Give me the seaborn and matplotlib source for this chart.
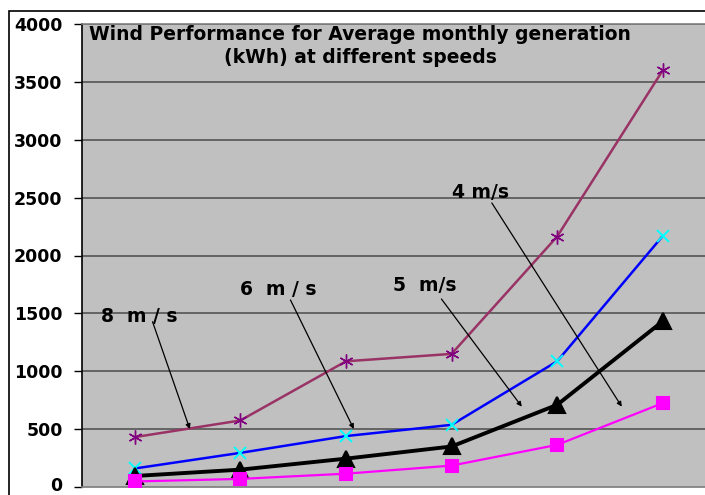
import matplotlib
matplotlib.use("Agg")
import matplotlib.pyplot as plt
import matplotlib.transforms as mtransforms
import seaborn as sns
import pandas as pd
from matplotlib.patches import Rectangle

# monthly generation (kWh), six points per speed
points = [1, 2, 3, 4, 5, 6]
gen_8ms = [431, 575, 1086, 1150, 2164, 3600]
gen_6ms = [160, 295, 440, 537, 1086, 2169]
gen_5ms = [95, 150, 245, 350, 710, 1432]
gen_4ms = [48, 70, 115, 185, 364, 725]
y_ticks = [0, 500, 1000, 1500, 2000, 2500, 3000, 3500, 4000]

title = "Wind Performance for Average monthly generation\n(kWh) at different speeds"

sns.set_theme(style="white")
plt.rcParams['font.family'] = ['DejaVu Sans']
plt.rcParams['text.color'] = 'black'
plt.rcParams['ytick.color'] = 'black'

fig = plt.figure(figsize=(7.05, 4.95), dpi=100)
ax = fig.add_axes([82 / 705, 8 / 495, 1 - 82 / 705, 463 / 495])
ax.set_facecolor("#C0C0C0")

# outer chart frame (cut off at right and bottom like the original)
fig.patches.append(Rectangle((9 / 705, -0.1), 1.2, 1 - 10.7 / 495 + 0.1,
                             transform=fig.transFigure, fill=False,
                             edgecolor="black", linewidth=1.2, zorder=0))

series = [
    (gen_8ms, "#993366", (6, 2, 0), "#800080", "#800080", 1.8, 10, 1.0),
    (gen_6ms, "#0000FF", "x", "#00FFFF", "#00FFFF", 1.8, 9, 1.4),
    (gen_5ms, "#000000", "^", "#000000", "#000000", 2.8, 11, 1.5),
    (gen_4ms, "#FF00FF", "s", "#FF00FF", "#FF00FF", 1.6, 8, 1.5),
]
for vals, col, mk, mfc, mec, lw, ms, mew in series:
    df = pd.DataFrame({"x": [p - 1 for p in points], "y": vals})
    sns.lineplot(data=df, x="x", y="y", ax=ax, color=col, linewidth=lw,
                 marker=mk, markersize=ms, markerfacecolor=mfc,
                 markeredgecolor=mec, markeredgewidth=mew, zorder=3)

ax.set_xlim(-0.5, 5.4)
ax.set_ylim(0, 4000)
ax.set_yticks(y_ticks)
ax.set_yticklabels([str(t) for t in y_ticks], fontsize=12.5, fontweight="bold",
                   color="black")
ax.set_xticks([])
ax.set_xlabel("")
ax.set_ylabel("")
ax.tick_params(axis="y", length=6, width=1, color="black", pad=8, left=True)
for t in y_ticks[1:]:
    ax.axhline(t, color="#555555", linewidth=1.2, zorder=1)

# nudge the "0" label up a little so it stays inside the figure
zero_lab = ax.get_yticklabels()[0]
zero_lab.set_transform(zero_lab.get_transform() +
                       mtransforms.ScaledTranslation(0, 3 / 100, fig.dpi_scale_trans))

ax.spines["left"].set_color("black")
ax.spines["left"].set_linewidth(1.2)
ax.spines["top"].set_color("#808080")
ax.spines["top"].set_linewidth(1.2)
ax.spines["right"].set_visible(False)
ax.spines["bottom"].set_color("#808080")

fig.text(360 / 705, 1 - 46 / 495, title, ha="center", va="center",
         fontsize=13.5, fontweight="bold", linespacing=1.3, color="black")

# speed labels with arrows
labels = ["8  m / s", "6  m / s", "5  m/s", "4 m/s"]
label_xy = [(0.04, 1469), (1.354, 1702), (2.746, 1737), (3.277, 2540)]
arrow_from = [(0.168, 1428), (1.474, 1616), (2.904, 1624), (3.381, 2454)]
arrow_to = [(0.521, 501), (2.074, 501), (3.665, 694), (4.612, 694)]
for lab, (tx, ty), a0, a1 in zip(labels, label_xy, arrow_from, arrow_to):
    ax.text(tx, ty, lab, ha="center", va="center", fontsize=13.5,
            fontweight="bold", color="black", zorder=5)
    ax.annotate("", xy=a1, xytext=a0,
                arrowprops=dict(arrowstyle="-|>", color="black", lw=0.9,
                                mutation_scale=7, shrinkA=0, shrinkB=0),
                zorder=4)

fig.savefig("out.png", dpi=100)
